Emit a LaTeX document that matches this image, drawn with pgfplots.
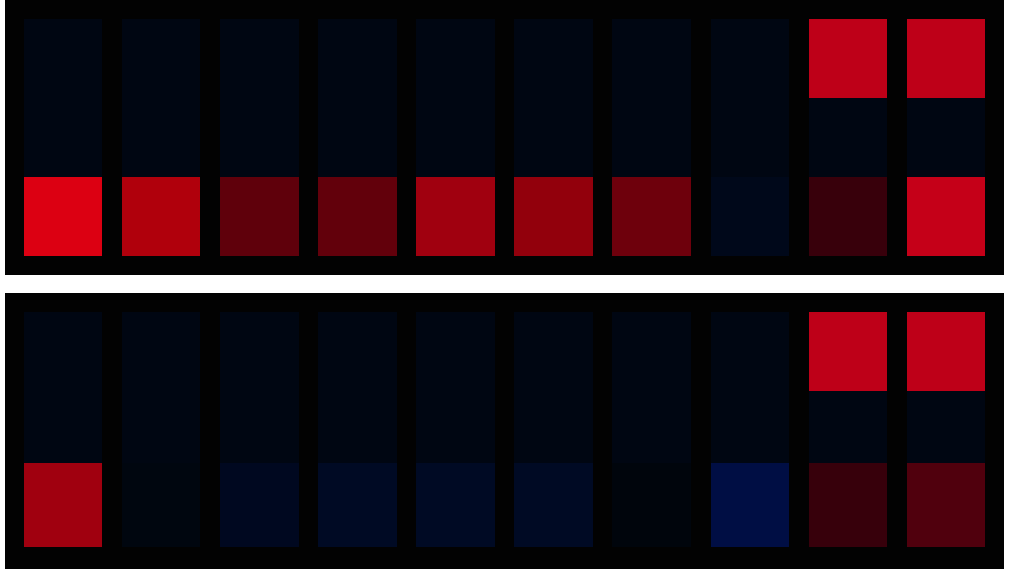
\documentclass[border=0pt]{standalone}
\usepackage{pgfplots}
\pgfplotsset{compat=1.18}
\definecolor{bg}{RGB}{2,2,2}
\definecolor{nv}{RGB}{0,6,18}
\definecolor{rt}{RGB}{190,0,24}
% top panel bottom row
\definecolor{a1}{RGB}{220,0,18}
\definecolor{a2}{RGB}{176,0,12}
\definecolor{a3}{RGB}{95,0,11}
\definecolor{a4}{RGB}{98,0,11}
\definecolor{a5}{RGB}{160,0,15}
\definecolor{a6}{RGB}{146,0,12}
\definecolor{a7}{RGB}{110,0,12}
\definecolor{a8}{RGB}{0,8,26}
\definecolor{a9}{RGB}{56,0,11}
\definecolor{a10}{RGB}{197,0,24}
% bottom panel bottom row
\definecolor{b1}{RGB}{160,0,15}
\definecolor{b2}{RGB}{0,6,15}
\definecolor{b3}{RGB}{0,8,32}
\definecolor{b4}{RGB}{0,10,36}
\definecolor{b5}{RGB}{0,10,36}
\definecolor{b6}{RGB}{0,10,36}
\definecolor{b7}{RGB}{0,5,12}
\definecolor{b8}{RGB}{0,14,68}
\definecolor{b9}{RGB}{55,0,11}
\definecolor{b10}{RGB}{80,0,13}
\pgfplotsset{
  panel/.style={
    scale only axis, width=499.5pt, xmin=-0.592, xmax=9.592,
    ticks=none, axis line style={draw=none},
    axis background/.style={fill=bg},
  },
  cell/.style={draw=none, fill=#1, forget plot},
}
\begin{document}
\begin{tikzpicture}
\path[use as bounding box] (0,0) rectangle (505.5pt,286.5pt);
% ---------------- top panel ----------------
\begin{axis}[panel, height=137.5pt, ymin=-0.24, ymax=3.24,
  at={(2.5pt,286.5pt)}, anchor=north west]
% navy columns (rows 0..3)
\addplot[cell=nv] coordinates {(-0.4,0)(0.4,0)(0.4,3)(-0.4,3)};
\addplot[cell=nv] coordinates {(0.6,0)(1.4,0)(1.4,3)(0.6,3)};
\addplot[cell=nv] coordinates {(1.6,0)(2.4,0)(2.4,3)(1.6,3)};
\addplot[cell=nv] coordinates {(2.6,0)(3.4,0)(3.4,3)(2.6,3)};
\addplot[cell=nv] coordinates {(3.6,0)(4.4,0)(4.4,3)(3.6,3)};
\addplot[cell=nv] coordinates {(4.6,0)(5.4,0)(5.4,3)(4.6,3)};
\addplot[cell=nv] coordinates {(5.6,0)(6.4,0)(6.4,3)(5.6,3)};
\addplot[cell=nv] coordinates {(6.6,0)(7.4,0)(7.4,3)(6.6,3)};
\addplot[cell=nv] coordinates {(7.6,0)(8.4,0)(8.4,3)(7.6,3)};
\addplot[cell=nv] coordinates {(8.6,0)(9.4,0)(9.4,3)(8.6,3)};
% top row
\addplot[cell=rt] coordinates {(7.6,2)(8.4,2)(8.4,3)(7.6,3)};
\addplot[cell=rt] coordinates {(8.6,2)(9.4,2)(9.4,3)(8.6,3)};
% bottom row
\addplot[cell=a1] coordinates {(-0.4,0)(0.4,0)(0.4,1)(-0.4,1)};
\addplot[cell=a2] coordinates {(0.6,0)(1.4,0)(1.4,1)(0.6,1)};
\addplot[cell=a3] coordinates {(1.6,0)(2.4,0)(2.4,1)(1.6,1)};
\addplot[cell=a4] coordinates {(2.6,0)(3.4,0)(3.4,1)(2.6,1)};
\addplot[cell=a5] coordinates {(3.6,0)(4.4,0)(4.4,1)(3.6,1)};
\addplot[cell=a6] coordinates {(4.6,0)(5.4,0)(5.4,1)(4.6,1)};
\addplot[cell=a7] coordinates {(5.6,0)(6.4,0)(6.4,1)(5.6,1)};
\addplot[cell=a8] coordinates {(6.6,0)(7.4,0)(7.4,1)(6.6,1)};
\addplot[cell=a9] coordinates {(7.6,0)(8.4,0)(8.4,1)(7.6,1)};
\addplot[cell=a10] coordinates {(8.6,0)(9.4,0)(9.4,1)(8.6,1)};
\end{axis}
% ---------------- bottom panel ----------------
\begin{axis}[panel, height=138pt, ymin=-0.281, ymax=3.243,
  at={(2.5pt,140pt)}, anchor=north west]
\addplot[cell=nv] coordinates {(-0.4,0)(0.4,0)(0.4,3)(-0.4,3)};
\addplot[cell=nv] coordinates {(0.6,0)(1.4,0)(1.4,3)(0.6,3)};
\addplot[cell=nv] coordinates {(1.6,0)(2.4,0)(2.4,3)(1.6,3)};
\addplot[cell=nv] coordinates {(2.6,0)(3.4,0)(3.4,3)(2.6,3)};
\addplot[cell=nv] coordinates {(3.6,0)(4.4,0)(4.4,3)(3.6,3)};
\addplot[cell=nv] coordinates {(4.6,0)(5.4,0)(5.4,3)(4.6,3)};
\addplot[cell=nv] coordinates {(5.6,0)(6.4,0)(6.4,3)(5.6,3)};
\addplot[cell=nv] coordinates {(6.6,0)(7.4,0)(7.4,3)(6.6,3)};
\addplot[cell=nv] coordinates {(7.6,0)(8.4,0)(8.4,3)(7.6,3)};
\addplot[cell=nv] coordinates {(8.6,0)(9.4,0)(9.4,3)(8.6,3)};
% top row
\addplot[cell=rt] coordinates {(7.6,1.992)(8.4,1.992)(8.4,3)(7.6,3)};
\addplot[cell=rt] coordinates {(8.6,1.992)(9.4,1.992)(9.4,3)(8.6,3)};
% bottom row
\addplot[cell=b1] coordinates {(-0.4,0)(0.4,0)(0.4,1.072)(-0.4,1.072)};
\addplot[cell=b2] coordinates {(0.6,0)(1.4,0)(1.4,1.072)(0.6,1.072)};
\addplot[cell=b3] coordinates {(1.6,0)(2.4,0)(2.4,1.072)(1.6,1.072)};
\addplot[cell=b4] coordinates {(2.6,0)(3.4,0)(3.4,1.072)(2.6,1.072)};
\addplot[cell=b5] coordinates {(3.6,0)(4.4,0)(4.4,1.072)(3.6,1.072)};
\addplot[cell=b6] coordinates {(4.6,0)(5.4,0)(5.4,1.072)(4.6,1.072)};
\addplot[cell=b7] coordinates {(5.6,0)(6.4,0)(6.4,1.072)(5.6,1.072)};
\addplot[cell=b8] coordinates {(6.6,0)(7.4,0)(7.4,1.072)(6.6,1.072)};
\addplot[cell=b9] coordinates {(7.6,0)(8.4,0)(8.4,1.072)(7.6,1.072)};
\addplot[cell=b10] coordinates {(8.6,0)(9.4,0)(9.4,1.072)(8.6,1.072)};
\end{axis}
\end{tikzpicture}
\end{document}
